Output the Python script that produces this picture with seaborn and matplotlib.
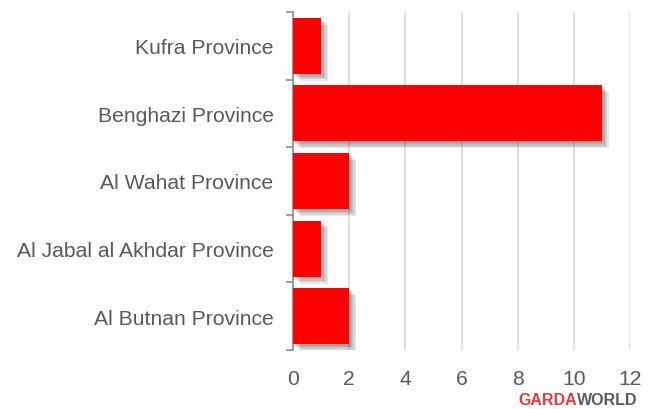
import matplotlib
matplotlib.use('Agg')
import matplotlib.pyplot as plt
import matplotlib.patheffects as pe
import numpy as np
import pandas as pd
import seaborn as sns

provinces = ['Kufra Province', 'Benghazi Province', 'Al Wahat Province',
             'Al Jabal al Akhdar Province', 'Al Butnan Province']
counts = [1, 11, 2, 1, 2]
x_ticks = [0, 2, 4, 6, 8, 10, 12]

df = pd.DataFrame({'Province': provinces, 'Count': counts})

sns.set_style('white')
plt.rcParams['font.family'] = ['Liberation Sans', 'DejaVu Sans']

fig = plt.figure(figsize=(6.53, 4.10), dpi=100)
ax = fig.add_axes([0.4487, 0.1439, 0.5161, 0.8244])

sns.barplot(data=df, x='Count', y='Province', color='#ff0000', saturation=1,
            width=0.83, ax=ax, zorder=3)

# soft drop shadow to the lower right
shadow = [pe.SimplePatchShadow(offset=(k, -k), shadow_rgbFace='#333333', alpha=0.11)
          for k in (5, 4, 3, 2, 1)]
for bar in ax.patches:
    bar.set_edgecolor('none')
    bar.set_path_effects(shadow + [pe.Normal()])

ax.set_xlim(0, 12)
ax.set_ylim(4.5, -0.5)
ax.set_xticks(x_ticks)
ax.xaxis.grid(True, color='#d9d9d9', linewidth=1.2, zorder=0)
ax.set_axisbelow(True)
ax.set_xlabel('')
ax.set_ylabel('')

for side in ['top', 'right', 'bottom']:
    ax.spines[side].set_visible(False)
ax.spines['left'].set_color('#8c8c8c')
ax.spines['left'].set_linewidth(1.2)

ax.tick_params(axis='y', which='major', left=True, length=0, pad=14, labelsize=15.2, labelcolor='#595959')
ax.set_yticks(np.arange(-0.5, 5, 1), minor=True)
ax.tick_params(axis='y', which='minor', left=True, length=5, width=1.2, color='#8c8c8c', direction='out')
ax.tick_params(axis='x', length=0, pad=14, labelsize=15.2, labelcolor='#595959')

fig.text(0.884, 0.006, 'GARDA', color='#e8383d', fontsize=11.5, fontweight='bold', ha='right', va='bottom')
fig.text(0.884, 0.006, 'WORLD', color='#5a5a5a', fontsize=11.5, fontweight='bold', ha='left', va='bottom')

fig.savefig('out.png', dpi=100)
